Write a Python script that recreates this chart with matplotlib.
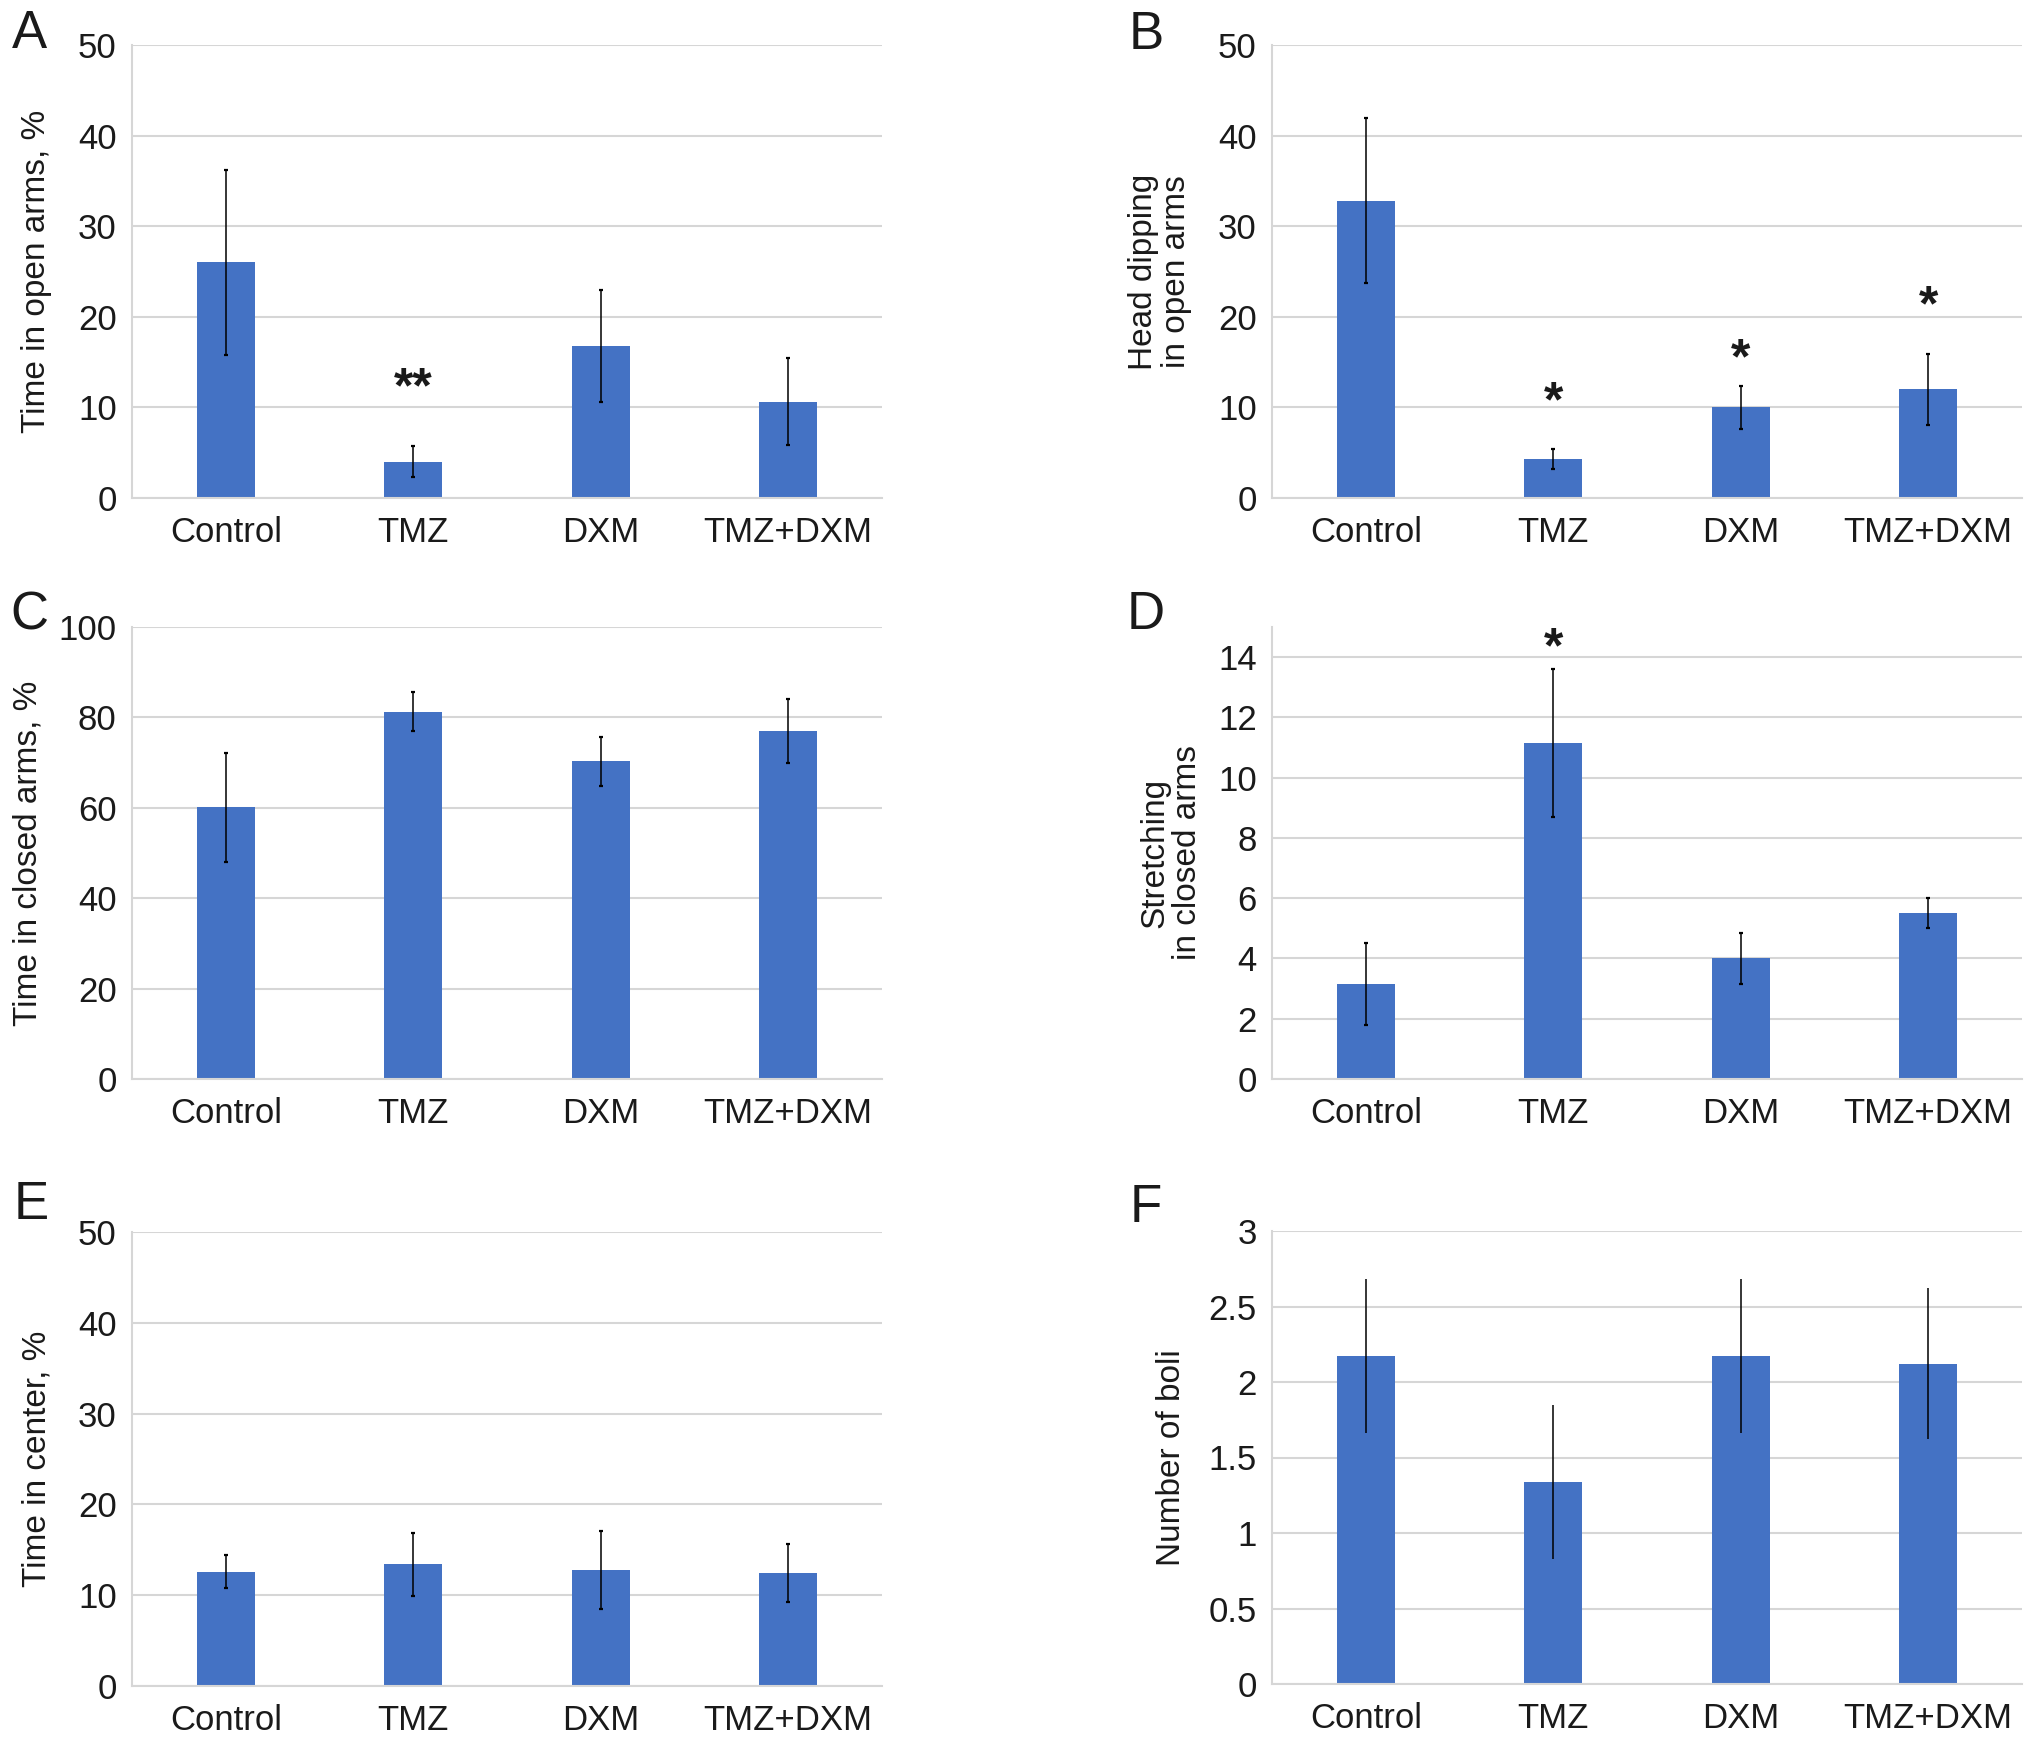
import numpy as np
import matplotlib
matplotlib.use("Agg")
import matplotlib.pyplot as plt
from matplotlib.ticker import FuncFormatter

plt.rcParams['font.family'] = ['Liberation Sans', 'DejaVu Sans']

groups = ["Control", "TMZ", "DXM", "TMZ+DXM"]

# panel values (mean, error)
open_time = [26.0, 4.0, 16.8, 10.6]
open_time_err = [10.2, 1.7, 6.2, 4.8]

head_dip = [32.8, 4.3, 10.0, 12.0]
head_dip_err = [9.1, 1.1, 2.4, 3.9]

closed_time = [60.1, 81.3, 70.3, 77.0]
closed_time_err = [12.0, 4.3, 5.4, 7.0]

stretching = [3.15, 11.15, 4.0, 5.5]
stretching_err = [1.35, 2.45, 0.85, 0.5]

center_time = [12.6, 13.4, 12.8, 12.4]
center_time_err = [1.8, 3.5, 4.3, 3.2]

boli = [2.17, 1.335, 2.17, 2.12]
boli_err = [0.51, 0.51, 0.51, 0.5]

# significance marks: (group index, y position, text)
sig_A = [(1, 12.0, "**")]
sig_B = [(1, 10.4, "*"), (2, 15.2, "*"), (3, 21.0, "*")]
sig_D = [(1, 14.25, "*")]

W, H = 2032, 1745
fig = plt.figure(figsize=(W / 100.0, H / 100.0), dpi=100)

bar_color = "#4472C4"
grid_color = "#D6D6D6"


def px_rect(x0, top, bottom, width=750):
    return [x0 / W, 1 - bottom / H, width / W, (bottom - top) / H]


panels = [
    dict(rect=px_rect(132, 45, 498), vals=open_time, err=open_time_err,
         ylim=(0, 50), ticks=np.arange(0, 51, 10), label="Time in open arms, %",
         lab_off=95, sig=sig_A, letter="A", lxy=(29, 34), cap=True),
    dict(rect=px_rect(1272, 45, 498), vals=head_dip, err=head_dip_err,
         ylim=(0, 50), ticks=np.arange(0, 51, 10),
         label="Head dipping\nin open arms",
         lab_off=112, sig=sig_B, letter="B", lxy=(1146, 35), cap=True),
    dict(rect=px_rect(132, 627, 1079), vals=closed_time, err=closed_time_err,
         ylim=(0, 100), ticks=np.arange(0, 101, 20),
         label="Time in closed arms, %",
         lab_off=104, sig=[], letter="C", lxy=(29, 615), cap=True),
    dict(rect=px_rect(1272, 627, 1079), vals=stretching, err=stretching_err,
         ylim=(0, 15), ticks=np.arange(0, 15, 2),
         label="Stretching\nin closed arms",
         lab_off=101, sig=sig_D, letter="D", lxy=(1146, 615), cap=True),
    dict(rect=px_rect(132, 1232, 1686), vals=center_time, err=center_time_err,
         ylim=(0, 50), ticks=np.arange(0, 51, 10), label="Time in center, %",
         lab_off=95, sig=[], letter="E", lxy=(31, 1205), cap=True),
    dict(rect=px_rect(1272, 1231, 1684), vals=boli, err=boli_err,
         ylim=(0, 3), ticks=np.arange(0, 3.01, 0.5), label="Number of boli",
         lab_off=101, sig=[], letter="F", lxy=(1146, 1208), cap=False),
]

x = np.arange(len(groups))

for p in panels:
    ax = fig.add_axes(p["rect"])
    ax.bar(x, p["vals"], width=0.31, color=bar_color, zorder=2)
    ax.errorbar(x, p["vals"], yerr=p["err"], fmt="none", ecolor="black",
                elinewidth=1.1, capsize=1.2 if p["cap"] else 0,
                capthick=1.6, zorder=3)
    ax.set_xlim(-0.5, len(groups) - 0.5)
    ax.set_ylim(p["ylim"])
    ax.set_yticks(p["ticks"])
    ax.yaxis.set_major_formatter(FuncFormatter(lambda v, pos: "%g" % v))
    ax.set_xticks(x)
    ax.set_xticklabels(groups)
    ax.yaxis.grid(True, color=grid_color, linewidth=1.5, zorder=0)
    ax.set_axisbelow(True)
    for s in ["top", "right"]:
        ax.spines[s].set_visible(False)
    for s in ["left", "bottom"]:
        ax.spines[s].set_color(grid_color)
        ax.spines[s].set_linewidth(1.5)
    ax.tick_params(axis="both", length=0, labelsize=25, colors="#1a1a1a")
    ax.tick_params(axis="y", pad=11)
    ax.tick_params(axis="x", pad=13)
    ax.set_ylabel(p["label"], fontsize=24, va="center", ha="center",
                  linespacing=1.05, color="#1a1a1a")
    ax.yaxis.set_label_coords(-p["lab_off"] / 750.0, 0.5)
    for gi, yy, txt in p["sig"]:
        ax.text(gi, yy, txt, ha="center", va="center", fontsize=36,
                fontweight="bold", color="#1a1a1a")
    fig.text(p["lxy"][0] / W, 1 - p["lxy"][1] / H, p["letter"],
             ha="center", va="center", fontsize=38, color="#1a1a1a")

plt.savefig("out.png", dpi=100)
